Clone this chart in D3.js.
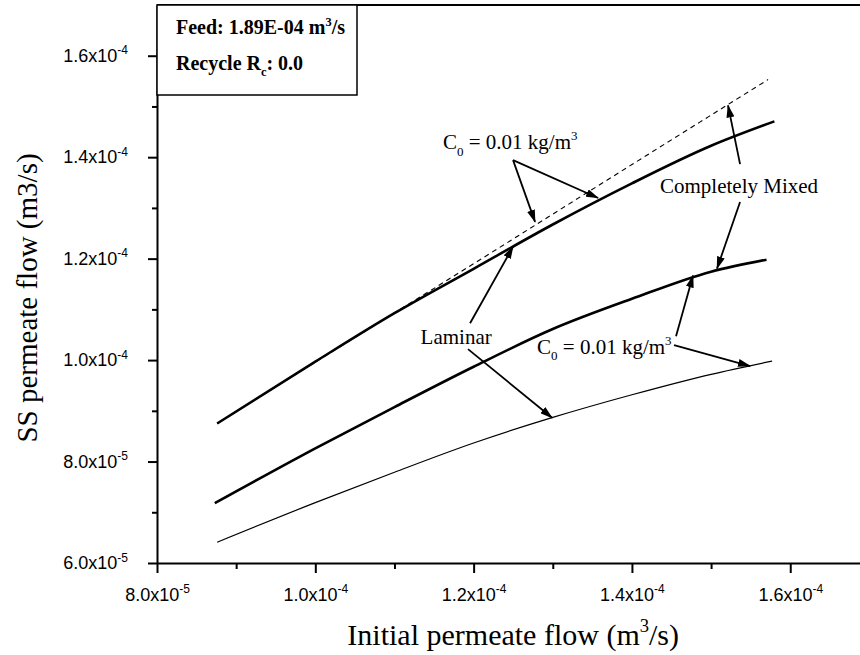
<!DOCTYPE html>
<html>
<head>
<meta charset="utf-8">
<script src="https://cdn.jsdelivr.net/npm/d3@7/dist/d3.min.js"></script>
<style>
  body { margin: 0; background: #fff; }
</style>
</head>
<body>
<svg id="chart"></svg>
<script>
// all flows in units of 1e-5 m3/s
var xTicks = [8, 10, 12, 14, 16];
var xMinor = [9, 11, 13, 15, 17];
var yTicks = [6, 8, 10, 12, 14, 16];
var yMinor = [7, 9, 11, 13, 15];

// dashed line (completely mixed, top)
var dashedSeries = [[8.76, 8.75], [10.0, 9.96], [12.0, 11.90], [14.0, 13.855], [15.72, 15.53]];
// upper solid (laminar)
var upperSeries = [[8.76, 8.75], [10.0, 9.97], [11.0, 10.925], [12.0, 11.80], [13.0, 12.673],
                   [14.0, 13.484], [15.0, 14.225], [15.8, 14.706]];
// middle solid (completely mixed)
var middleSeries = [[8.73, 7.18], [10.0, 8.26], [11.0, 9.074], [12.0, 9.869], [13.0, 10.612],
                    [14.0, 11.208], [15.0, 11.743], [15.7, 11.98]];
// lower thin line (laminar)
var lowerSeries = [[8.76, 6.41], [10.0, 7.19], [11.0, 7.79], [12.0, 8.366], [13.0, 8.87],
                   [14.0, 9.317], [15.0, 9.72], [15.77, 9.98]];

// annotation arrows, data units: from (x1,y1) to (x2,y2)
var arrows = [
  {x1: 12.498, y1: 13.941, x2: 12.776, y2: 12.725},
  {x1: 12.498, y1: 13.941, x2: 13.572, y2: 13.196},
  {x1: 15.366, y1: 13.863, x2: 15.214, y2: 15.020},
  {x1: 15.366, y1: 13.118, x2: 15.075, y2: 11.804},
  {x1: 11.955, y1: 10.725, x2: 12.498, y2: 12.235},
  {x1: 11.929, y1: 10.216, x2: 12.991, y2: 8.863},
  {x1: 14.557, y1: 10.471, x2: 14.772, y2: 11.667},
  {x1: 14.532, y1: 10.294, x2: 15.492, y2: 9.882}
];

// annotation labels, data units
var labels = [
  {x: 11.613, y: 14.157, parts: [["C"], ["0", "sub"], [" = 0.01 kg/m"], ["3", "sup"]]},
  {x: 14.355, y: 13.294, parts: [["Completely Mixed"]]},
  {x: 11.33, y: 10.314, parts: [["Laminar"]]},
  {x: 12.801, y: 10.118, parts: [["C"], ["0", "sub"], [" = 0.01 kg/m"], ["3", "sup"]]}
];

var boxLines = [
  [["Feed: 1.89E-04 m"], ["3", "sup"], ["/s"]],
  [["Recycle R"], ["c", "sub"], [": 0.0"]]
];

var width = 860, height = 655;
var serif = "'Liberation Serif', 'Times New Roman', serif";
var sans = "'Liberation Sans', Arial, sans-serif";

var svg = d3.select("#chart")
  .attr("width", width)
  .attr("height", height);

var x = d3.scaleLinear().domain([8, 17]).range([157, 869.4]);
var y = d3.scaleLinear().domain([6, 17]).range([563, 5]);

// writes text with sub/superscript pieces
function richText(sel, parts, size) {
  var shift = 0;
  parts.forEach(function(p) {
    var ts = sel.append("tspan").text(p[0]);
    var target = 0;
    if (p[1] == "sup") target = -size * 0.42;
    if (p[1] == "sub") target = size * 0.3;
    if (p[1]) ts.attr("font-size", size * 0.62);
    ts.attr("dy", target - shift);
    shift = target;
  });
}

function sciLabel(sel) {
  sel.each(function(d) {
    var exp = d >= 10 ? -4 : -5;
    var mant = d >= 10 ? d / 10 : d;
    var t = d3.select(this).text(null);
    t.append("tspan").text(mant.toFixed(1) + "x10");
    t.append("tspan").attr("font-size", 12).attr("dy", -7.5).text(exp);
  });
}

// x axis
var xAxis = svg.append("g")
  .attr("transform", `translate(0,${y(6)})`)
  .call(d3.axisBottom(x).tickValues(xTicks).tickSize(10).tickSizeOuter(0).tickPadding(15))
  .attr("font-family", sans)
  .attr("font-size", 18);
xAxis.select(".domain").attr("stroke-width", 2);
xAxis.selectAll(".tick line").attr("stroke-width", 2);
xAxis.selectAll(".tick text").call(sciLabel);

svg.append("g")
  .attr("transform", `translate(0,${y(6)})`)
  .call(d3.axisBottom(x).tickValues(xMinor).tickSize(6).tickFormat(""))
  .call(g => g.select(".domain").remove())
  .selectAll(".tick line").attr("stroke-width", 2);

// y axis
var yAxis = svg.append("g")
  .attr("transform", `translate(${x(8)},0)`)
  .call(d3.axisLeft(y).tickValues(yTicks).tickSize(9).tickSizeOuter(0).tickPadding(20))
  .attr("font-family", sans)
  .attr("font-size", 18);
yAxis.select(".domain").attr("stroke-width", 2);
yAxis.selectAll(".tick line").attr("stroke-width", 2);
yAxis.selectAll(".tick text").call(sciLabel);

svg.append("g")
  .attr("transform", `translate(${x(8)},0)`)
  .call(d3.axisLeft(y).tickValues(yMinor).tickSize(5).tickFormat(""))
  .call(g => g.select(".domain").remove())
  .selectAll(".tick line").attr("stroke-width", 2);

// top frame
svg.append("line")
  .attr("x1", x(8)).attr("x2", x(17))
  .attr("y1", y(17)).attr("y2", y(17))
  .attr("stroke", "#000")
  .attr("stroke-width", 2);

// curves
var line = d3.line()
  .x(d => x(d[0]))
  .y(d => y(d[1]))
  .curve(d3.curveMonotoneX);

svg.append("path").datum(dashedSeries)
  .attr("d", line).attr("fill", "none").attr("stroke", "#000")
  .attr("stroke-width", 1.1).attr("stroke-dasharray", "5,4");

svg.append("path").datum(upperSeries)
  .attr("d", line).attr("fill", "none").attr("stroke", "#000")
  .attr("stroke-width", 2.6);

svg.append("path").datum(middleSeries)
  .attr("d", line).attr("fill", "none").attr("stroke", "#000")
  .attr("stroke-width", 2.6);

svg.append("path").datum(lowerSeries)
  .attr("d", line).attr("fill", "none").attr("stroke", "#000")
  .attr("stroke-width", 1.2);

// arrows
svg.append("defs").append("marker")
  .attr("id", "head")
  .attr("viewBox", "0 0 13 8")
  .attr("refX", 12).attr("refY", 4)
  .attr("markerWidth", 13).attr("markerHeight", 8)
  .attr("markerUnits", "userSpaceOnUse")
  .attr("orient", "auto")
  .append("path")
  .attr("d", "M0,0L13,4L0,8Z")
  .attr("fill", "#000");

svg.selectAll(".arrow")
  .data(arrows)
  .join("line")
  .attr("class", "arrow")
  .attr("x1", d => x(d.x1)).attr("y1", d => y(d.y1))
  .attr("x2", d => x(d.x2)).attr("y2", d => y(d.y2))
  .attr("stroke", "#000")
  .attr("stroke-width", 1.8)
  .attr("marker-end", "url(#head)");

// annotation labels
labels.forEach(function(l) {
  var t = svg.append("text")
    .attr("x", x(l.x)).attr("y", y(l.y))
    .attr("font-family", serif)
    .attr("font-size", 21);
  richText(t, l.parts, 21);
});

// legend box
svg.append("rect")
  .attr("x", x(8)).attr("y", y(17))
  .attr("width", 200).attr("height", 90)
  .attr("fill", "#fff")
  .attr("stroke", "#000")
  .attr("stroke-width", 1.5);

boxLines.forEach(function(parts, i) {
  var t = svg.append("text")
    .attr("x", x(8) + 19)
    .attr("y", 34 + i * 36)
    .attr("font-family", serif)
    .attr("font-weight", "bold")
    .attr("font-size", 20);
  richText(t, parts, 20);
});

// axis titles
var xTitle = svg.append("text")
  .attr("x", (x(8) + x(17)) / 2)
  .attr("y", 645)
  .attr("text-anchor", "middle")
  .attr("font-family", serif)
  .attr("font-size", 30);
richText(xTitle, [["Initial permeate flow (m"], ["3", "sup"], ["/s)"]], 30);

svg.append("text")
  .attr("transform", "translate(37,298) rotate(-90)")
  .attr("text-anchor", "middle")
  .attr("font-family", serif)
  .attr("font-size", 29)
  .text("SS permeate flow (m3/s)");
</script>
</body>
</html>
